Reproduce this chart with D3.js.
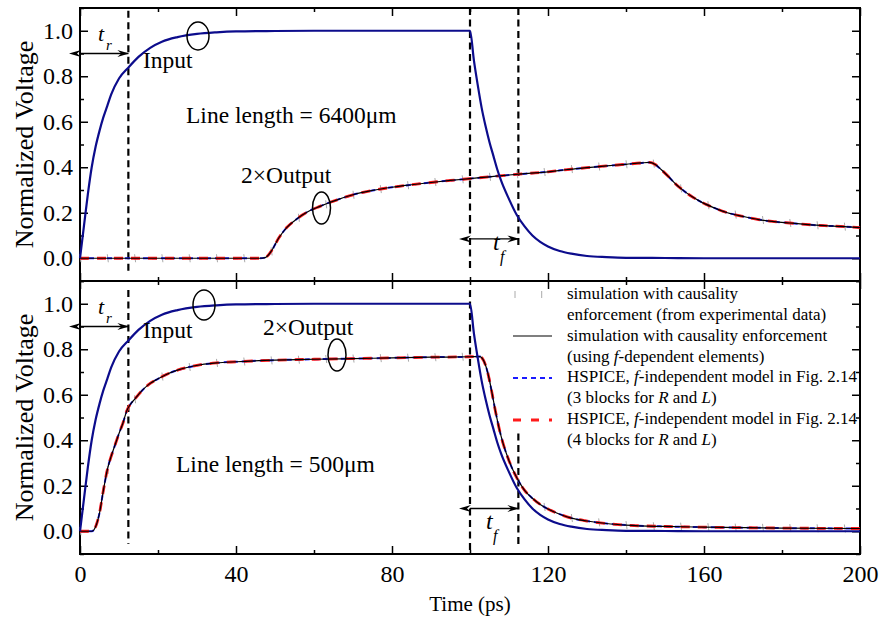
<!DOCTYPE html>
<html>
<head>
<meta charset="utf-8">
<script src="https://cdn.jsdelivr.net/npm/d3@7"></script>
<style>
body { margin: 0; background: #fff; }
.tick line { stroke: #000; stroke-width: 1.5; }
</style>
</head>
<body>
<div id="chart"></div>
<script>
// ---- data ----
var timeTicks = [0, 40, 80, 120, 160, 200];
var timeMinor = [20, 60, 100, 140, 180];
var voltTicks = [0, 0.2, 0.4, 0.6, 0.8, 1.0];
var voltMinor = [-0.1, 0.1, 0.3, 0.5, 0.7, 0.9, 1.1];

// input step (same for both line lengths)
var inputTime = [0, 1, 2, 3, 4, 5, 6, 7, 8, 10, 12.5, 15, 18, 21, 25, 30, 35, 40, 50, 60, 100,
    101, 102, 103, 104, 105, 106, 107, 108, 110, 112, 114, 116, 118, 120, 123, 126, 130, 135, 140, 150, 160, 200];
var inputVolt = [0, 0.14, 0.28, 0.40, 0.49, 0.56, 0.62, 0.67, 0.72, 0.79, 0.84, 0.885, 0.925, 0.952, 0.972, 0.986, 0.993, 0.997, 0.999, 1, 1,
    0.87, 0.76, 0.66, 0.58, 0.51, 0.45, 0.39, 0.34, 0.26, 0.19, 0.14, 0.10, 0.072, 0.052, 0.032, 0.02, 0.01, 0.005, 0.002, 0.001, 0, 0];

// 2 x output, line length 6400um
var out6400Time = [0, 46, 47.5, 49, 51, 53, 55, 57, 59, 61.5, 64, 66, 70, 75, 80, 85, 90, 95, 100, 105, 110, 115, 120,
    125, 130, 135, 140, 144, 146, 147.5, 149, 151, 153, 155, 157, 159, 162, 166, 170, 174, 178, 182, 186, 191, 195, 200];
var out6400Volt = [0, 0, 0.003, 0.03, 0.09, 0.135, 0.165, 0.19, 0.21, 0.228, 0.245, 0.257, 0.279, 0.298, 0.312, 0.323, 0.333, 0.342, 0.35, 0.358, 0.366, 0.373, 0.38,
    0.39, 0.398, 0.406, 0.413, 0.419, 0.421, 0.412, 0.39, 0.357, 0.322, 0.294, 0.27, 0.25, 0.226, 0.2, 0.184, 0.17, 0.161, 0.155, 0.149, 0.143, 0.14, 0.135];

// 2 x output, line length 500um
var out500Time = [0, 3, 4, 5, 6, 7, 8, 9, 10, 11, 12, 13, 14, 16, 18, 20, 22, 25, 28, 31, 35, 40, 50, 60, 70, 80, 90, 100,
    102.5, 103.5, 104.5, 105.5, 106.5, 107.5, 108.5, 110, 112, 114, 116, 118, 120, 123, 126, 130, 135, 140, 150, 160, 180, 200];
var out500Volt = [0, 0, 0.02, 0.08, 0.18, 0.27, 0.33, 0.38, 0.43, 0.475, 0.53, 0.56, 0.58, 0.62, 0.65, 0.67, 0.688, 0.708, 0.722, 0.732, 0.74, 0.745, 0.752, 0.756, 0.759, 0.762, 0.765, 0.767,
    0.768, 0.75, 0.70, 0.62, 0.53, 0.45, 0.385, 0.31, 0.235, 0.18, 0.145, 0.118, 0.098, 0.075, 0.058, 0.045, 0.034, 0.027, 0.021, 0.018, 0.014, 0.012];

// experimental-data markers
var markerTime = [0, 7, 14, 21, 28, 35, 42, 49, 56, 63, 70, 77, 84, 91, 98, 105, 112, 119, 126, 133, 140, 147, 154, 161, 168, 175, 182, 189, 196];
var marker6400Volt = [0, 0, 0, 0, 0, 0, 0, 0.03, 0.178, 0.237, 0.279, 0.304, 0.321, 0.335, 0.347, 0.358, 0.369, 0.379, 0.392, 0.403, 0.413, 0.416, 0.307, 0.233, 0.192, 0.168, 0.155, 0.145, 0.139];
var marker500Volt = [0, 0.27, 0.58, 0.68, 0.722, 0.74, 0.746, 0.751, 0.754, 0.757, 0.759, 0.761, 0.763, 0.765, 0.767, 0.66, 0.235, 0.107, 0.058, 0.039, 0.027, 0.022, 0.02, 0.018, 0.016, 0.015, 0.014, 0.013, 0.012];

// rise / fall marker times
var riseEdge = 12.4;
var fallStart = 100;
var fallEdge = 112.4;

var legendLabels = [
    ["simulation with causality", "enforcement (from experimental data)"],
    ["simulation with causality enforcement", "(using <i>f</i>-dependent elements)"],
    ["HSPICE, <i>f</i>-independent model in Fig. 2.14", "(3 blocks for <i>R</i> and <i>L</i>)"],
    ["HSPICE, <i>f</i>-independent model in Fig. 2.14", "(4 blocks for <i>R</i> and <i>L</i>)"]
];

var FONT = '"Liberation Serif", "Times New Roman", Times, serif';

var svg = d3.select("#chart").append("svg")
    .attr("width", 880)
    .attr("height", 628)
    .style("font-family", FONT);

var defs = svg.append("defs");
["start", "end"].forEach(function(k){
    defs.append("marker")
        .attr("id", "arrow-" + k)
        .attr("viewBox", "0 0 12 8")
        .attr("refX", k === "end" ? 11 : 1)
        .attr("refY", 4)
        .attr("markerWidth", 12)
        .attr("markerHeight", 8)
        .attr("markerUnits", "userSpaceOnUse")
        .attr("orient", "auto-start-reverse")
        .append("path")
        .attr("d", "M0,0.5 L12,4 L0,7.5 L4,4 Z")
        .attr("fill", "#000");
});

function addText(sel, x, y, size, str){
    return sel.append("text")
        .attr("x", x)
        .attr("y", y)
        .style("font-family", FONT)
        .style("font-size", size + "px")
        .style("fill", "#000")
        .text(str);
}

Panel = function(_svg, _config){
    this.svg = _svg;
    this.cfg = _config;
    this.initVis();
};

Panel.prototype.initVis = function(){
    var vis = this;

    vis.x = d3.scaleLinear().domain([0, 200]).range([80, 860]);
    vis.y = d3.scaleLinear().domain([-0.1, 1.1]).range([vis.cfg.bottom, vis.cfg.top]);

    vis.g = vis.svg.append("g");

    // inward ticks on all four sides
    function addAxis(axis, values, size, transform, labels){
        var a = axis.tickValues(values).tickSize(-size);
        if (!labels) a.tickFormat("");
        var g = vis.g.append("g")
            .attr("transform", transform)
            .call(a);
        g.select(".domain").remove();
        g.selectAll("text")
            .style("font-family", FONT)
            .style("font-size", "24px")
            .style("fill", "#000");
        return g;
    }

    if (vis.cfg.xLabels) {
        addAxis(d3.axisBottom(vis.x).tickPadding(11), timeTicks, 8, "translate(0," + vis.cfg.bottom + ")", true);
    } else {
        addAxis(d3.axisBottom(vis.x), timeTicks, 8, "translate(0," + vis.cfg.bottom + ")", false);
    }
    addAxis(d3.axisBottom(vis.x), timeMinor, 4, "translate(0," + vis.cfg.bottom + ")", false);
    addAxis(d3.axisTop(vis.x), timeTicks, 8, "translate(0," + vis.cfg.top + ")", false);
    addAxis(d3.axisTop(vis.x), timeMinor, 4, "translate(0," + vis.cfg.top + ")", false);

    addAxis(d3.axisLeft(vis.y).tickPadding(7).tickFormat(d3.format(".1f")), voltTicks, 8, "translate(80,0)", true);
    addAxis(d3.axisLeft(vis.y), voltMinor, 4, "translate(80,0)", false);
    addAxis(d3.axisRight(vis.y), voltTicks, 8, "translate(860,0)", false);
    addAxis(d3.axisRight(vis.y), voltMinor, 4, "translate(860,0)", false);

    vis.g.append("rect")
        .attr("x", 80)
        .attr("y", vis.cfg.top)
        .attr("width", 780)
        .attr("height", vis.cfg.bottom - vis.cfg.top)
        .attr("fill", "none")
        .attr("stroke", "#000")
        .attr("stroke-width", 2);

    addText(vis.g, 0, 0, 26, "Normalized Voltage")
        .attr("transform", "translate(33," + ((vis.cfg.top + vis.cfg.bottom) / 2) + ")rotate(-90)")
        .attr("text-anchor", "middle");

    vis.updateVis();
};

Panel.prototype.updateVis = function(){
    var vis = this;
    var c = vis.cfg;

    var line = d3.line()
        .x(function(d){ return vis.x(d[0]); })
        .y(function(d){ return vis.y(d[1]); })
        .curve(d3.curveMonotoneX);

    // dashed guide lines
    c.guides.forEach(function(gd){
        vis.g.append("line")
            .attr("x1", vis.x(gd[0])).attr("x2", vis.x(gd[0]))
            .attr("y1", vis.y(gd[1])).attr("y2", vis.y(gd[2]))
            .attr("stroke", "#000")
            .attr("stroke-width", 2.2)
            .attr("stroke-dasharray", "7,4.5");
    });

    // experimental markers
    vis.g.selectAll(".mk")
        .data(d3.zip(markerTime, c.markers))
        .enter().append("line")
        .attr("class", "mk")
        .attr("x1", function(d){ return vis.x(d[0]); })
        .attr("x2", function(d){ return vis.x(d[0]) + 1; })
        .attr("y1", function(d){ return vis.y(d[1]) - 4; })
        .attr("y2", function(d){ return vis.y(d[1]) + 4; })
        .attr("stroke", "#aaa")
        .attr("stroke-width", 1);

    var out = d3.zip(c.outTime, c.outVolt);

    vis.g.append("path").attr("d", line(out))
        .attr("fill", "none").attr("stroke", "#1a1aff").attr("stroke-width", 2).attr("stroke-dasharray", "5,4");
    vis.g.append("path").attr("d", line(out))
        .attr("fill", "none").attr("stroke", "#ff1a1a").attr("stroke-width", 2.8).attr("stroke-dasharray", "9,8");
    vis.g.append("path").attr("d", line(out))
        .attr("fill", "none").attr("stroke", "#000").attr("stroke-width", 1.2);

    vis.g.append("path").attr("d", line(d3.zip(inputTime, inputVolt)))
        .attr("fill", "none").attr("stroke", "#0c0c8c").attr("stroke-width", 2.2);

    // rise / fall arrows
    function arrow(t0, t1, v){
        vis.g.append("line")
            .attr("x1", vis.x(t0)).attr("x2", vis.x(t1))
            .attr("y1", vis.y(v)).attr("y2", vis.y(v))
            .attr("stroke", "#000").attr("stroke-width", 1.3)
            .attr("marker-start", "url(#arrow-start)")
            .attr("marker-end", "url(#arrow-end)");
    }
    arrow(0, riseEdge, 0.9);
    arrow(fallStart, fallEdge, c.fallLevel);

    var ry = vis.y(0.9);
    addText(vis.g, 98, ry - 13, 22, "t").style("font-style", "italic");
    addText(vis.g, 106, ry - 4, 15, "r").style("font-style", "italic");

    var fy = vis.y(c.fallLevel);
    addText(vis.g, c.tfX, fy + c.tfDy, 24, "t").style("font-style", "italic");
    addText(vis.g, c.tfX + 7, fy + c.tfDy + 12, 16, "f").style("font-style", "italic");

    // labels and ellipses
    c.texts.forEach(function(t){
        addText(vis.g, t[0], t[1], 23.5, t[2]);
    });
    c.ellipses.forEach(function(e){
        vis.g.append("ellipse")
            .attr("cx", e[0]).attr("cy", e[1]).attr("rx", e[2]).attr("ry", e[3])
            .attr("fill", "none").attr("stroke", "#000").attr("stroke-width", 1.5);
    });
};

new Panel(svg, {
    top: 8, bottom: 281, xLabels: false,
    outTime: out6400Time, outVolt: out6400Volt, markers: marker6400Volt,
    guides: [[riseEdge, 1.088, -0.06], [fallStart, 1.1, -0.045], [fallEdge, 1.1, 0.04]],
    fallLevel: 0.085, tfX: 493, tfDy: 11,
    texts: [[143, 68, "Input"], [186, 123, "Line length = 6400\u03bcm"], [241, 183, "2\u00d7Output"]],
    ellipses: [[198, 36, 11, 14], [321.5, 208, 9, 16]]
});

new Panel(svg, {
    top: 281, bottom: 554, xLabels: true,
    outTime: out500Time, outVolt: out500Volt, markers: marker500Volt,
    guides: [[riseEdge, 1.06, -0.055], [fallStart, 1.06, -0.1], [fallEdge, 0.43, -0.06]],
    fallLevel: 0.1, tfX: 486, tfDy: 20,
    texts: [[143, 338, "Input"], [176, 472, "Line length = 500\u03bcm"], [263, 335, "2\u00d7Output"]],
    ellipses: [[204, 305, 11, 15], [337, 355, 9, 16]]
});

addText(svg, 470, 611, 21, "Time (ps)").attr("text-anchor", "middle");

// legend
var legend = svg.append("g").attr("class", "legend");
legendLabels.forEach(function(lbl, i){
    var base = 299.3 + 41.5 * i;
    lbl.forEach(function(s, j){
        addText(legend, 567, base + 20.7 * j, 17, "")
            .html(s.replace(/<i>/g, '<tspan font-style="italic">').replace(/<\/i>/g, "</tspan>"));
    });
});
[515, 541.7].forEach(function(mx){
    legend.append("line")
        .attr("x1", mx).attr("x2", mx).attr("y1", 291).attr("y2", 298)
        .attr("stroke", "#aaa").attr("stroke-width", 1);
});
legend.append("line").attr("x1", 513).attr("x2", 552).attr("y1", 336).attr("y2", 336)
    .attr("stroke", "#000").attr("stroke-width", 1.2);
legend.append("line").attr("x1", 513).attr("x2", 552).attr("y1", 378).attr("y2", 378)
    .attr("stroke", "#1a1aff").attr("stroke-width", 2).attr("stroke-dasharray", "5,4");
legend.append("line").attr("x1", 513).attr("x2", 552).attr("y1", 420).attr("y2", 420)
    .attr("stroke", "#ff1a1a").attr("stroke-width", 2.8).attr("stroke-dasharray", "8,10");
</script>
</body>
</html>
